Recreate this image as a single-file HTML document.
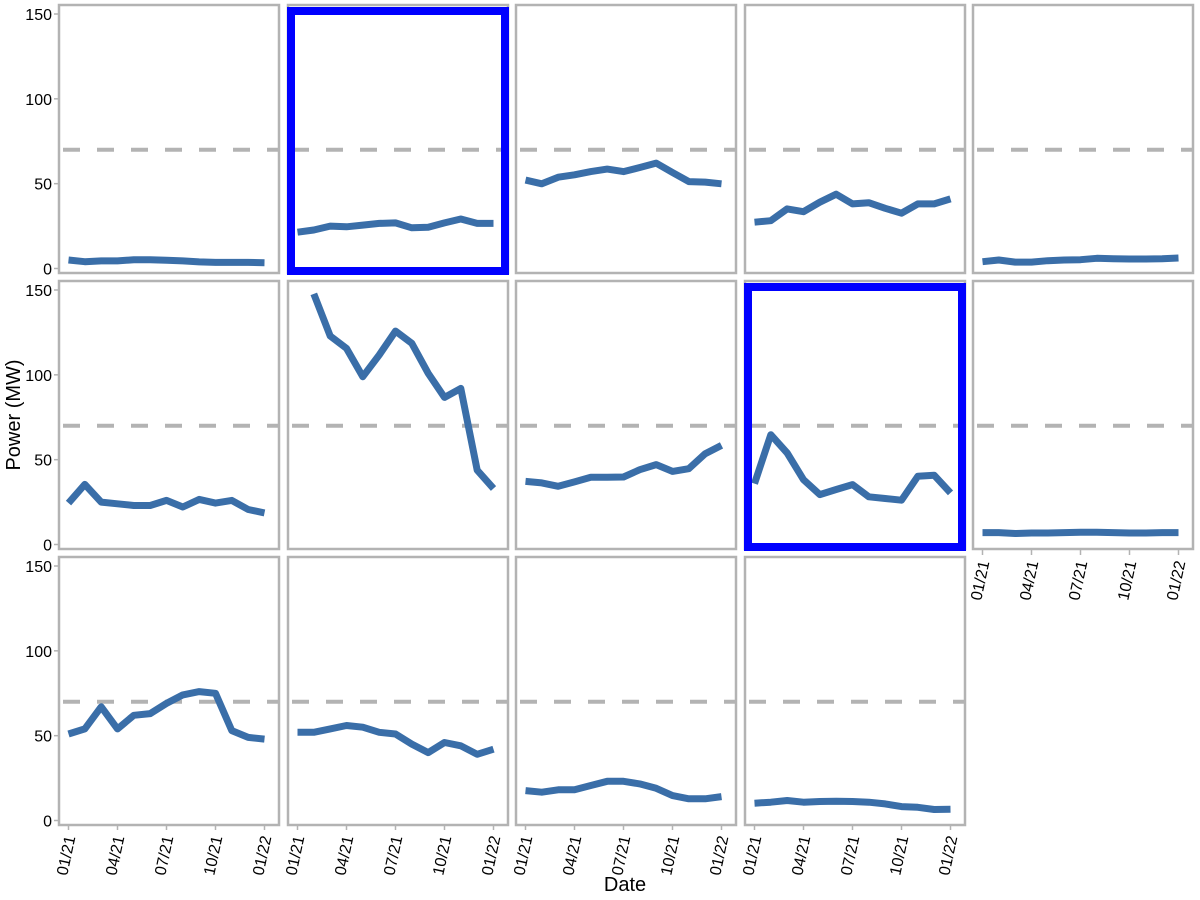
<!DOCTYPE html>
<html><head><meta charset="utf-8"><style>
html,body{margin:0;padding:0;background:#fff;}
svg{display:block;font-family:"Liberation Sans",Arial,sans-serif;}
</style></head><body>
<svg id="chart" width="1200" height="900" viewBox="0 0 1200 900" xmlns="http://www.w3.org/2000/svg">
<text x="0" y="0" transform="translate(20,415) rotate(-90)" text-anchor="middle" font-size="20" fill="#000">Power (MW)</text>
<text x="625" y="891" text-anchor="middle" font-size="20" fill="#000">Date</text>
</svg>
<script>
const yTicks = [0, 50, 100, 150];
const xTickLabels = ["01/21", "04/21", "07/21", "10/21", "01/22"];
const xTickMonths = [0, 3, 6, 9, 12];
const threshold = 70;
const highlighted = [1, 8];
const startMonth = [0,0,0,0,0, 0,1,0,0,0, 0,0,0,0];
const s0 = [5,4,4.5,4.5,5.2,5.2,4.9,4.5,3.9,3.6,3.6,3.6,3.4];
const s1 = [21.4,22.7,25,24.6,25.6,26.6,26.9,24,24.3,26.9,29.2,26.6,26.6];
const s2 = [52.1,49.9,53.8,55.2,57.1,58.6,57.1,59.5,62.1,56.6,51.2,50.9,49.9];
const s3 = [27.3,28.2,35.1,33.5,39.1,43.8,38.1,38.8,35.5,32.6,38.1,38.1,41];
const s4 = [4,5,3.8,3.8,4.6,5,5.2,6,5.8,5.6,5.6,5.8,6.2];
const s5 = [24.4,35.4,25,24,23,23,26,22.1,26.6,24.4,26,20.6,18.6];
const s6 = [147.7,122.9,115.6,98.9,111.7,125.8,118.6,100.9,86.7,92,43.8,33];
const s7 = [37.2,36.3,34.3,36.9,39.6,39.6,39.8,44.1,47.1,43.1,44.7,53.5,58.4];
const s8 = [35.9,64.7,53.9,38.2,29.4,32.4,35.3,28.1,27.1,26.1,40.2,40.8,30.4];
const s9 = [7,7,6.5,6.8,6.8,7,7.2,7.2,7,6.8,6.8,7,7];
const s10 = [51,54,67,54,62,63,69,74,76,75,53,49,48];
const s11 = [52,52,54,56,55,52,51,45,40,46,44,39,42];
const s12 = [17.6,16.7,18.1,18.1,20.6,23.1,23.1,21.6,19,14.7,12.8,12.8,14.1];
const s13 = [10.2,10.8,11.8,10.8,11.2,11.4,11.2,10.8,9.8,8.2,7.8,6.5,6.6];
const series = [s0,s1,s2,s3,s4,s5,s6,s7,s8,s9,s10,s11,s12,s13];

const NS = "http://www.w3.org/2000/svg";
const svg = document.getElementById("chart");
const colL = [59, 288, 516, 745, 973];
const rowT = [5, 281, 557];
const PW = 220, PH = 268;
function mk(tag, attrs, parent){const e=document.createElementNS(NS,tag);for(const k in attrs)e.setAttribute(k,attrs[k]);(parent||svg).appendChild(e);return e;}
function xScale(left, m){return left + 9.5 + m * (196/12);}
function yScale(top, v){return top + 263.5 - v * (254.5/150);}

series.forEach((vals, i) => {
  const r = Math.floor(i/5), c = i%5;
  const L = colL[c], T = rowT[r];
  const g = mk("g", {});
  
  
  const fr = mk("rect", {x:L, y:T, width:PW, height:PH, fill:"#fff", stroke:"#b3b3b3", "stroke-width":2.5}, g);
  
  
  const th = mk("line", {x1:L+4, x2:L+PW-1, y1:yScale(T,threshold), y2:yScale(T,threshold), stroke:"#b3b3b3", "stroke-width":4, "stroke-dasharray":"17 17"}, g);
  
  
  const pts = vals.map((v,k)=> xScale(L, k+startMonth[i]).toFixed(1)+","+yScale(T,v).toFixed(1)).join(" ");
  const pl = mk("polyline", {points:pts, fill:"none", stroke:"#3a6ea8", "stroke-width":7, "stroke-linejoin":"round"}, g);
  
  
  if (highlighted.includes(i)) {
    const hl = mk("rect", {x:L+3, y:T+6, width:PW-6, height:PH-8, fill:"none", stroke:"#0000ff", "stroke-width":8}, g);
    
    
  }
  if (c === 0) {
    yTicks.forEach(t => {
      const y = yScale(T,t);
      const tk = mk("line", {x1:54, x2:59, y1:y, y2:y, stroke:"#b3b3b3", "stroke-width":1.5});
      
      
      const tl = mk("text", {x:52, y:y+6, "text-anchor":"end", "font-size":16, fill:"#000"});
      tl.textContent = t;
      
      
    });
  }
  const bottom = (r === 2) || (r === 1 && c === 4);
  if (bottom) {
    const by = (r === 1 && c === 4) ? 550 : T + PH;
    xTickMonths.forEach((m, k) => {
      const x = xScale(L, m);
      const tk = mk("line", {x1:x, x2:x, y1:by, y2:by+5, stroke:"#b3b3b3", "stroke-width":1.5});
      
      
      const tl = mk("text", {x:0, y:0, "text-anchor":"end", "font-size":16, fill:"#000", transform:"translate("+(x+7)+","+(by+12)+") rotate(-78)"});
      tl.textContent = xTickLabels[k];
      
      
    });
  }
});
</script>
</body></html>
